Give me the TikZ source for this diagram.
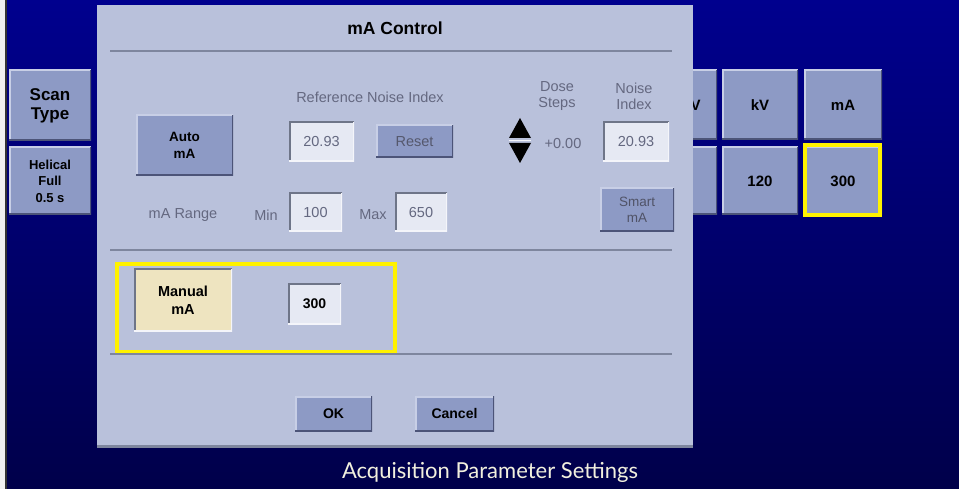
\documentclass[tikz,border=0pt]{standalone}
\usepackage{fontspec}
\setmainfont{Liberation Sans}
\newfontfamily\captionfont{Lato}
\definecolor{bgtop}{HTML}{00008E}
\definecolor{bgbot}{HTML}{00004A}
\definecolor{dlgfill}{HTML}{B9C1DB}
\definecolor{btnfill}{HTML}{8D9AC5}
\definecolor{btnhi}{HTML}{C8CFE6}
\definecolor{btnlo}{HTML}{4C5478}
\definecolor{fieldfill}{HTML}{E6E9F3}
\definecolor{fieldlo}{HTML}{6E7588}
\definecolor{fieldhi}{HTML}{F4F5FA}
\definecolor{manualfill}{HTML}{EEE4C0}
\definecolor{hilite}{HTML}{FFF200}
\definecolor{sepline}{HTML}{7E869E}
\definecolor{dimtext}{HTML}{646880}
\definecolor{captiontext}{HTML}{F2F0DE}
\newcommand\uisize[2]{\fontsize{#1}{#2}\selectfont}
\tikzset{
  x=1pt, y=-1pt,
  ui/.style={font=\uisize{14}{17}\bfseries, align=center, inner sep=0pt, text=black},
  dim/.style={font=\uisize{14.5}{16}, align=center, inner sep=0pt, text=dimtext},
  bevel/.style 2 args={path picture={
    \draw[line width=3pt,#1] (path picture bounding box.south west)
      -- (path picture bounding box.north west) -- (path picture bounding box.north east);
    \draw[line width=3pt,#2] (path picture bounding box.north east)
      -- (path picture bounding box.south east) -- (path picture bounding box.south west);}},
  raised/.style={ui, fill=btnfill, bevel={btnhi}{btnlo}},
  sunken/.style={ui, fill=fieldfill, bevel={fieldlo}{fieldhi}},
  pressed/.style={ui, fill=manualfill, bevel={fieldlo}{fieldhi}},
  sep/.style={draw=sepline, line width=1.5pt},
  markbox/.style={draw=hilite, line width=4pt},
  box/.style 2 args={minimum width=#1pt, minimum height=#2pt},
}
\begin{document}
\begin{tikzpicture}
% screen background
\useasboundingbox (0,0) rectangle (959,489);
\shade[top color=bgtop, bottom color=bgbot] (0,0) rectangle (959,489);
\fill[white!88!gray] (0,0) rectangle (5,489);
\fill[black!80] (5,0) rectangle (6.5,489);

% parameter buttons on the left
\node[raised, box={82}{71}, font=\uisize{17}{19}\bfseries] (scantype) at (50,105.5) {Scan\\Type};
\node[raised, box={82}{68}, font=\uisize{13}{16.5}\bfseries] (helical) at (50,181) {Helical\\Full\\0.5 s};

% parameter buttons on the right
\node[raised, box={77}{70}, font=\uisize{15}{17}\bfseries] (dfov) at (678.5,105) {};
\node[ui, font=\uisize{15}{17}\bfseries] (dfovtxt) at (695.5,105) {V};
\node[raised, box={77}{68}] (dfovval) at (678.5,181) {};
\node[raised, box={76}{70}, font=\uisize{15}{17}\bfseries] (kv) at (760,105) {kV};
\node[raised, box={78}{70}, font=\uisize{15}{17}\bfseries] (ma) at (843,105) {mA};
\node[raised, box={76}{68}, font=\uisize{15}{17}\bfseries] (kvval) at (760,181) {120};
\node[raised, box={78}{68}, font=\uisize{15}{17}\bfseries] (maval) at (843,181) {300};
\draw[markbox] (805,145) rectangle (880,215);

% mA Control dialog
\node[fill=dlgfill, box={596}{443}, inner sep=0pt] (dlg) at (395,226.5) {};
\draw[sepline, line width=3pt] (dlg.south west) ++(0,-1.5) -- ++(596,0);
\node[ui, font=\uisize{17.5}{20}\bfseries] (title) at (395,28) {mA Control};
\draw[sep] (110,51) -- (672,51);

% automatic mA section
\node[dim] (refnoise) at (370,97) {Reference Noise Index};
\node[raised, box={97}{61}, font=\uisize{13.5}{17}\bfseries] (automa) at (184.5,145.5) {Auto\\mA};
\node[sunken, box={65}{40}, dim] (refval) at (321.5,142) {20.93};
\node[raised, box={77}{33}, dim, text=dimtext!85!black] (reset) at (414.5,141.5) {Reset};
\node[dim] (range) at (183,215) {mA Range};
\node[dim] (minlbl) at (266,215) {Min};
\node[sunken, box={53}{39}, dim] (minval) at (315.5,212.5) {100};
\node[dim] (maxlbl) at (373,215) {Max};
\node[sunken, box={52}{39}, dim] (maxval) at (421,212.5) {650};
\node[dim] (dose) at (557,96) {Dose\\Steps};
\node[dim] (noise) at (634,96) {Noise\\Index};
\fill[black] (509,138) -- (520,118) -- (531,138) -- cycle;
\fill[black] (509,143) -- (520,163) -- (531,143) -- cycle;
\draw[fieldhi, line width=1pt] (509,140.5) -- (531,140.5);
\node[dim] (steps) at (563,144) {+0.00};
\node[sunken, box={66}{40}, dim] (noiseval) at (636,142) {20.93};
\node[raised, box={74}{44}, dim, font=\uisize{13.5}{16}, text=dimtext!80!black] (smart) at (637,210) {Smart\\mA};
\draw[sep] (110,250) -- (672,250);

% manual mA section
\node[pressed, box={98}{62}, font=\uisize{14.5}{18}\bfseries] (manual) at (183,300) {Manual\\mA};
\node[sunken, box={53}{40}] (manualval) at (314.5,304) {300};
\draw[markbox] (117,264) rectangle (395,352);
\draw[sep] (110,354) -- (672,354);

% dialog buttons
\node[raised, box={77}{35}] (ok) at (333.5,413.5) {OK};
\node[raised, box={79}{35}] (cancel) at (454.5,413.5) {Cancel};

% caption
\node[font=\captionfont\fontsize{22}{26}\selectfont, text=captiontext, inner sep=0pt] (caption) at (490,472) {Acquisition Parameter Settings};
\end{tikzpicture}
\end{document}
